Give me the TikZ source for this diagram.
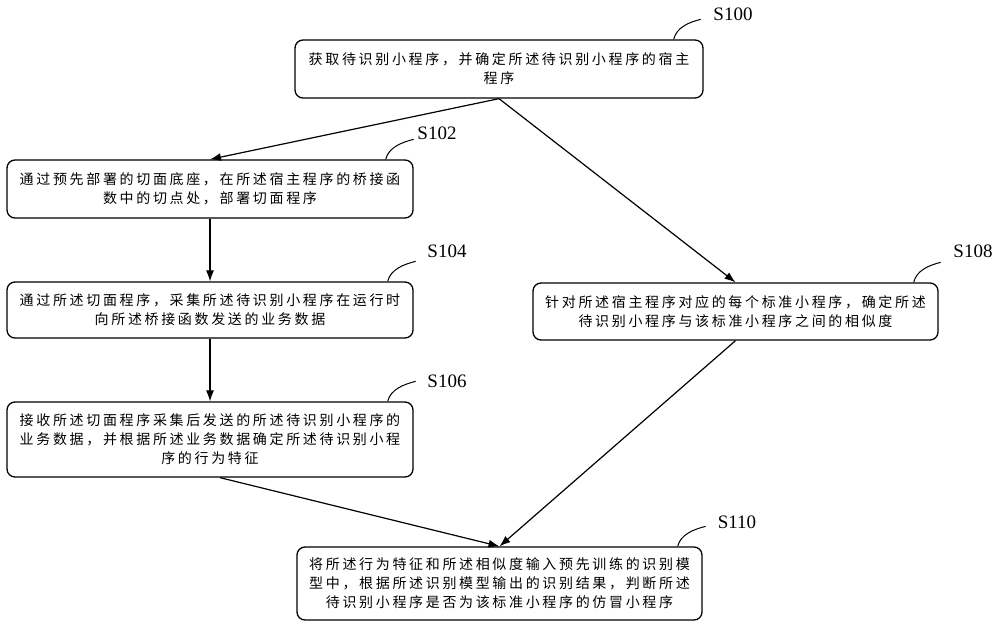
\documentclass[tikz,border=0pt]{standalone}
\usepackage{fontspec}
\setmainfont{Liberation Serif}
\newfontfamily\cjk[LetterSpace=19]{Noto Sans CJK SC}
\usetikzlibrary{arrows.meta,calc}
\begin{document}
\begin{tikzpicture}[x=1pt,y=-1pt,
  box/.style={draw,line width=1.3pt,rounded corners=8pt,inner sep=0pt,align=center,
    font=\cjk\fontsize{14}{19}\selectfont},
  lab/.style={font=\fontsize{19}{19}\selectfont,inner sep=0pt},
  arr/.style={line width=1.2pt,-{Latex[length=11pt,width=8pt]}},
  sq/.style={line width=1pt}]
\useasboundingbox (0,0) rectangle (1000,626);
\fill[white] (0,0) rectangle (1000,626);

\node[box,minimum width=408,minimum height=58] (s100) at (499,69)
  {获取待识别小程序，并确定所述待识别小程序的宿主\\程序};
\node[box,minimum width=406,minimum height=58] (s102) at (210,189)
  {通过预先部署的切面底座，在所述宿主程序的桥接函\\数中的切点处，部署切面程序};
\node[box,minimum width=406,minimum height=56] (s104) at (210,310)
  {通过所述切面程序，采集所述待识别小程序在运行时\\向所述桥接函数发送的业务数据};
\node[box,minimum width=406,minimum height=75] (s106) at (210,439.5)
  {接收所述切面程序采集后发送的所述待识别小程序的\\业务数据，并根据所述业务数据确定所述待识别小程\\序的行为特征};
\node[box,minimum width=405,minimum height=57] (s108) at (735.5,311.5)
  {针对所述宿主程序对应的每个标准小程序，确定所述\\待识别小程序与该标准小程序之间的相似度};
\node[box,minimum width=405,minimum height=73] (s110) at (499.5,583.5)
  {将所述行为特征和所述相似度输入预先训练的识别模\\型中，根据所述识别模型输出的识别结果，判断所述\\待识别小程序是否为该标准小程序的仿冒小程序};

\node[lab] (l100) at (733,14) {S100};
\node[lab] (l102) at (437,133) {S102};
\node[lab] (l104) at (447,251) {S104};
\node[lab] (l106) at (447,381) {S106};
\node[lab] (l108) at (973,251) {S108};
\node[lab] (l110) at (737,522) {S110};

\foreach \b/\dx/\ex in {s100/-30/-3, s102/-28/0, s104/-26/2, s106/-26/2, s108/-25/2, s110/-25/3}{
  \coordinate (\b a) at ($(\b.north east)+(\dx,0)$);
  \coordinate (\b b) at ($(\b.north east)+(\ex,-20)$);
  \draw[sq] (\b a) .. controls +(3,-12) and +(-12,3) .. (\b b);
}

\draw[arr] (s100.south) -- (s102.north);
\draw[arr] (s100.south) -- (s108.north);
\draw[arr] (s102.south) -- (s104.north);
\draw[arr] (s104.south) -- (s106.north);
\draw[arr] ([xshift=10pt]s106.south) -- (s110.north);
\draw[arr] (s108.south) -- (s110.north);
\end{tikzpicture}
\end{document}
